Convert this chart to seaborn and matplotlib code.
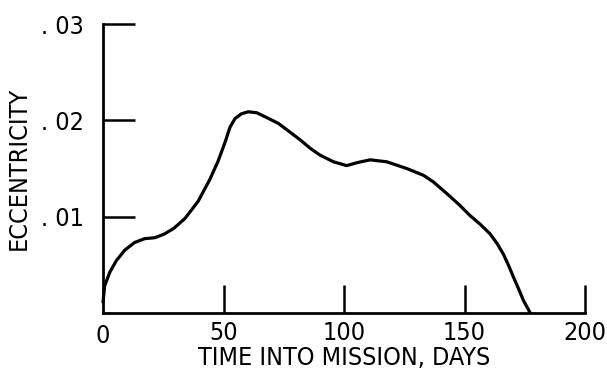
import matplotlib
matplotlib.use("Agg")
import matplotlib.pyplot as plt
import seaborn as sns
import pandas as pd

days = [0, 0.7, 2.8, 5.5, 9.0, 13.1, 17.3, 21.5, 25.6, 29.5, 34, 39.5, 44.4, 47.8, 50.6, 52.7, 54.8, 57.5, 60.3, 63.8, 67.9, 72.7,
        77.5, 81.7, 86, 90, 95.6, 101.1, 105.3, 110.8, 117.7, 126, 132.9, 137.1, 142.6, 147.5, 152.3, 156.5, 160.6, 163.5, 166.1, 168.3, 170.3, 172.4, 174.4, 177.2]
ecc = [0.0011, 0.0028, 0.0042, 0.0054, 0.0065, 0.0073, 0.0077, 0.0078, 0.0082, 0.0088, 0.0098, 0.0116, 0.0139, 0.0158, 0.0177, 0.0193, 0.0202, 0.0207, 0.0209, 0.0208, 0.0203, 0.0197,
       0.0188, 0.0180, 0.0171, 0.0164, 0.0157, 0.0153, 0.0156, 0.0159, 0.0157, 0.0150, 0.0143, 0.0136, 0.0124, 0.0113, 0.0101, 0.0092, 0.0082, 0.0072, 0.0061, 0.0049, 0.0037, 0.0025, 0.0013, 0.0]
xticks = [50, 100, 150, 200]
xtick_labels = ["50", "100", "150", "200"]
yticks = [0.01, 0.02, 0.03]
ytick_labels = [". 01", ". 02", ". 03"]

sns.set_style("white")
plt.rcParams['font.family'] = ['DejaVu Sans']
plt.rcParams['font.stretch'] = 'condensed'
plt.rcParams['text.color'] = 'black'
plt.rcParams['xtick.color'] = 'black'
plt.rcParams['ytick.color'] = 'black'
plt.rcParams['axes.labelcolor'] = 'black'

fig = plt.figure(figsize=(6.07, 3.84), dpi=100)
ax = fig.add_axes([0.1697, 0.1857, 0.7941, 0.751])
df = pd.DataFrame({"days": days, "ecc": ecc})
sns.lineplot(data=df, x="days", y="ecc", ax=ax, color="black", linewidth=2.3, clip_on=False,
             solid_joinstyle="round", solid_capstyle="round")

ax.set_xlim(0, 200)
ax.set_ylim(0, 0.03)
for s in ["top", "right"]:
    ax.spines[s].set_visible(False)
for s in ["left", "bottom"]:
    ax.spines[s].set_color("black")
    ax.spines[s].set_linewidth(2)

tf = dict(fontsize=18, fontstretch='condensed')
ax.set_xticks(xticks)
ax.set_xticklabels(xtick_labels, **tf)
ax.set_yticks(yticks)
ax.set_yticklabels(ytick_labels, **tf)
ax.tick_params(axis="both", direction="in", width=1.8, color="black",
               bottom=True, left=True)
ax.tick_params(axis="x", length=20, pad=6)
ax.tick_params(axis="y", length=23, pad=14)
ax.text(0, -0.0012, "0", ha="center", va="top", transform=ax.transData, **tf)

ax.set_xlabel("TIME INTO MISSION, DAYS", fontsize=18, fontstretch='condensed', labelpad=1)
ax.set_ylabel("ECCENTRICITY", fontsize=18, fontstretch='condensed', labelpad=7)

fig.savefig("out.png", dpi=100)
